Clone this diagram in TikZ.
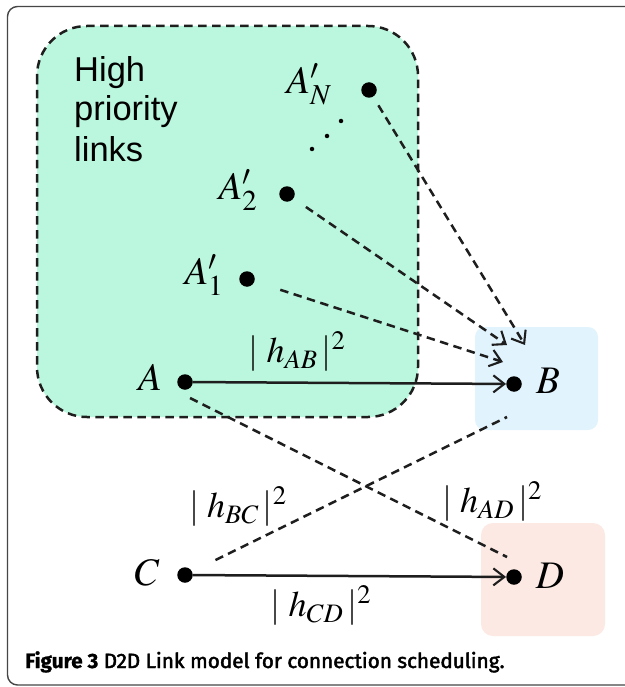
\documentclass[tikz,border=0pt]{standalone}
\usepackage{mathptmx}
\usepackage{fontspec}
\newfontfamily\hpfont{Liberation Sans}
\newfontfamily\capfont{Fira Sans}
\usetikzlibrary{arrows.meta}
\definecolor{mint}{RGB}{186,247,222}
\definecolor{skyb}{RGB}{225,243,253}
\definecolor{peach}{RGB}{252,233,227}
\definecolor{ink}{RGB}{30,30,30}
\begin{document}
\begin{tikzpicture}[x=1pt,y=-1pt,
  dot/.style={circle,fill=black,inner sep=0pt,minimum size=15.5pt},
  sdot/.style={circle,fill=black,inner sep=0pt,minimum size=4.5pt},
  lbl/.style={inner sep=0pt,font=\fontsize{39}{44}\selectfont},
  hlbl/.style={inner sep=0pt,font=\fontsize{36}{40}\selectfont},
  hptext/.style={inner sep=0pt,anchor=base west,font=\hpfont\fontsize{34.5}{38}\selectfont},
  dsh/.style={draw=ink,line width=2.5pt,dash pattern=on 8.5pt off 5.5pt},
  sld/.style={draw=ink,line width=2.5pt},
  tip/.style={-{Straight Barb[length=11pt,width=17pt,line width=2.1pt]}},
]
\useasboundingbox (0,0) rectangle (624,687);
\fill[white] (0,0) rectangle (624,687);
\draw[gray!55!black,line width=1.4pt,rounded corners=10pt] (7.5,6.5) rectangle (660,685);
\filldraw[fill=mint,draw=ink,dash pattern=on 8.5pt off 5.5pt,line width=2.5pt,rounded corners=50pt] (37,26) rectangle (418,417);
\fill[skyb,rounded corners=10pt] (475,327) rectangle (598,430);
\fill[peach,rounded corners=12pt] (481,523) rectangle (605,636);

\node[hptext] (hp1) at (74,82) {High};
\node[hptext] (hp2) at (74,121) {priority};
\node[hptext] (hp3) at (74,161) {links};

\node[dot] (AN) at (369,90) {};
\node[dot] (A2) at (287,194) {};
\node[dot] (A1) at (247,279) {};
\node[dot] (A) at (185,382) {};
\node[dot] (B) at (514,384) {};
\node[dot] (C) at (185,575) {};
\node[dot] (D) at (514,577) {};
\node[sdot] (d1) at (341,121) {};
\node[sdot] (d2) at (327,136) {};
\node[sdot] (d3) at (312,149) {};

\node[lbl] (lAN) at (309,84) {$A'_N$};
\node[lbl] (lA2) at (238,190) {$A'_2$};
\node[lbl] (lA1) at (204,275) {$A'_1$};
\node[lbl] (lA) at (150,377) {$A$};
\node[lbl] (lB) at (548,381) {$B$};
\node[lbl] (lC) at (147,573) {$C$};
\node[lbl] (lD) at (550,576) {$D$};

\node[hlbl] (hAB) at (297,352) {$|\;h_{AB}\,|^{2}$};
\node[hlbl] (hBC) at (238,507) {$|\;h_{BC}\,|^{2}$};
\node[hlbl] (hAD) at (492,502) {$|\;h_{AD}\,|^{2}$};
\node[hlbl] (hCD) at (321,606) {$|\;h_{CD}\,|^{2}$};

\coordinate (tAN) at (525,345);
\coordinate (tA2) at (507,345);
\coordinate (tA1) at (503,362);
\coordinate (adS) at (190,398);
\coordinate (adE) at (507,557);
\coordinate (cbE) at (507,417);

\draw[dsh,tip,shorten <=10pt] (AN) -- (tAN);
\draw[dsh,tip,shorten <=15pt] (A2) -- (tA2);
\draw[dsh,tip,shorten <=27pt] (A1) -- (tA1);
\draw[dsh] (adS) -- (adE);
\draw[dsh,shorten <=26pt] (C) -- (cbE);
\draw[sld,tip] (A) -- (B);
\draw[sld,tip] (C) -- (D);

\node[inner sep=0pt,anchor=base west,font=\capfont\fontsize{20.7}{24}\selectfont] (cap) at (25,668) {{\addfontfeatures{FakeBold=1}\bfseries Figure 3} {\addfontfeatures{FakeBold=2.2}D2D Link model for connection scheduling.}};
\end{tikzpicture}
\end{document}
